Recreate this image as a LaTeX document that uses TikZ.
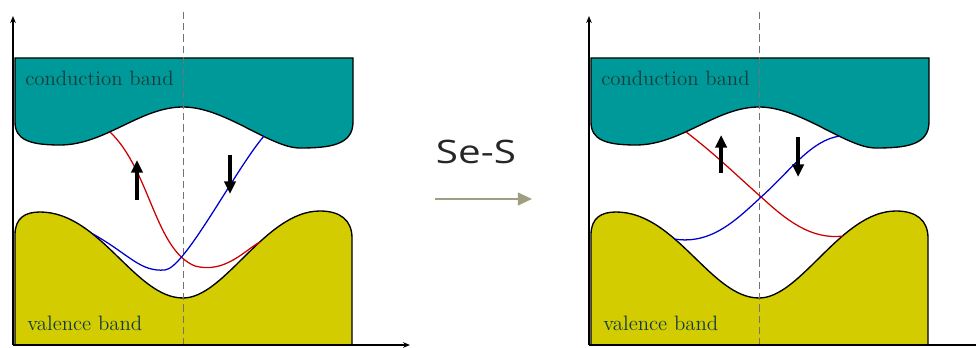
\documentclass[tikz,border=0pt]{standalone}
\usepackage{fontspec}
\usepackage{graphicx}
\newfontfamily\opensans{Open Sans}
\usetikzlibrary{arrows.meta}
\definecolor{condcol}{RGB}{0,153,153}
\definecolor{valcol}{RGB}{210,204,0}
\definecolor{labcol}{RGB}{20,60,60}
\definecolor{sescol}{RGB}{160,158,128}
\begin{document}
\begin{tikzpicture}[x=0.025cm, y=-0.025cm, >=Stealth,
  banda/.style={draw=black, line width=0.95pt},
  eje/.style={line width=0.9pt, -{Stealth[length=5pt,width=4pt]}},
  rotulo/.style={anchor=west, inner sep=0pt, text=labcol, font=\fontsize{14.8}{16}\selectfont},
  espinup/.style={draw=red!80!black, line width=0.9pt},
  espindn/.style={draw=blue!80!black, line width=0.9pt},
  flecha/.style={line width=2.6pt, -{Triangle[length=9pt,width=8pt]}}]
\useasboundingbox (0,0) rectangle (976,348);
% the two band panels
\foreach \dx/\p in {0/l, 576/r} {
  \begin{scope}[xshift=\dx*0.025cm]
    \filldraw[banda, fill=condcol] (15,58) -- (353,58) -- (353,122)
      .. controls (353,145) and (330,148) .. (300,148)
      .. controls (270,148) and (225,107) .. (183,107)
      .. controls (140,107) and (105,145) .. (60,145)
      .. controls (30,145) and (15,140) .. (15,122) -- cycle;
    \filldraw[banda, fill=valcol] (15,345) -- (15,235)
      .. controls (15,218) and (25,212) .. (40,212)
      .. controls (100,212) and (135,298) .. (183,298)
      .. controls (225,298) and (265,211) .. (320,211)
      .. controls (340,211) and (352,220) .. (352,238) -- (352,345) -- cycle;
    \draw[black!55, line width=0.7pt, dash pattern=on 5pt off 3pt] (183,12) -- (183,348);
    \draw[eje] (13,345) -- (13,16);
    \draw[eje] (13,345) -- (410,345);
    \node[rotulo] (cb\p) at (25,78) {conduction band};
    \node[rotulo] (vb\p) at (27,323) {valence band};
  \end{scope}
}
% left: before
\draw[espinup] (110,132) .. controls (150,170) and (155,250) .. (195,266)
  .. controls (225,274) and (245,250) .. (260,242);
\draw[espindn] (93,234) .. controls (130,255) and (140,272) .. (165,270)
  .. controls (185,268) and (235,170) .. (264,136);
\draw[flecha] (137,200) -- (137,160);
\draw[flecha] (230,155) -- (230,194);
% right: after
\begin{scope}[xshift=14.4cm]
  \draw[espinup] (110,132) .. controls (140,155) and (160,175) .. (185,197)
    .. controls (210,220) and (235,240) .. (267,236);
  \draw[espindn] (98,239) .. controls (135,245) and (160,220) .. (185,197)
    .. controls (215,170) and (235,140) .. (264,136);
  \draw[flecha] (145,173) -- (145,135);
  \draw[flecha] (222,137) -- (222,177);
\end{scope}
% substitution
\node[font=\opensans\fontsize{23}{26}\selectfont, text=black!85] (ses) at (476,152) {\scalebox{1.25}[1]{Se-S}};
\coordinate (sesa) at (435,199);
\coordinate (sesb) at (532,199);
\draw[sescol, line width=1.5pt, -{Triangle[length=10pt,width=9pt]}] (sesa) -- (sesb);
\end{tikzpicture}
\end{document}
